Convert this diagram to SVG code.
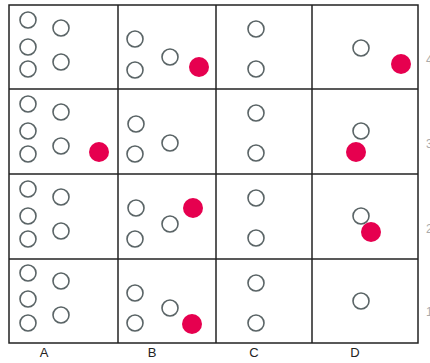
<svg xmlns="http://www.w3.org/2000/svg" width="430" height="363" viewBox="0 0 430 363">
<style>
.o{fill:none;stroke:#5a6466;stroke-width:1.6}
.r{fill:#e6004f}
.g{stroke:#222;stroke-width:1.5;fill:none}
.t{font-family:"Liberation Sans",Arial,sans-serif;font-size:13px;fill:#222;text-anchor:middle}
.e{font-family:"Liberation Sans",Arial,sans-serif;font-size:12px;fill:#aaa}
</style>
<rect width="430" height="363" fill="#fff"/>
<g id="grid">
<rect class="g" x="9" y="5" width="409" height="338"/>
<line class="g" x1="118" y1="5" x2="118" y2="343"/>
<line class="g" x1="216" y1="5" x2="216" y2="343"/>
<line class="g" x1="312" y1="5" x2="312" y2="343"/>
<line class="g" x1="9" y1="89" x2="418" y2="89"/>
<line class="g" x1="9" y1="174" x2="418" y2="174"/>
<line class="g" x1="9" y1="259" x2="418" y2="259"/>
</g>
<g id="A4"><circle class="o" cx="28" cy="20" r="8"/><circle class="o" cx="28" cy="47" r="8"/><circle class="o" cx="28" cy="69" r="8"/><circle class="o" cx="61" cy="28" r="8"/><circle class="o" cx="61" cy="62" r="8"/></g>
<g id="B4"><circle class="o" cx="135" cy="39" r="8"/><circle class="o" cx="135" cy="70" r="8"/><circle class="o" cx="170" cy="57" r="8"/><circle class="r" cx="199" cy="67" r="10"/></g>
<g id="C4"><circle class="o" cx="256" cy="29" r="8"/><circle class="o" cx="256" cy="69" r="8"/></g>
<g id="D4"><circle class="o" cx="361" cy="48" r="8"/><circle class="r" cx="401" cy="64" r="10"/></g>
<g id="A3"><circle class="o" cx="28" cy="104" r="8"/><circle class="o" cx="28" cy="131" r="8"/><circle class="o" cx="28" cy="154" r="8"/><circle class="o" cx="61" cy="112" r="8"/><circle class="o" cx="61" cy="146" r="8"/><circle class="r" cx="99" cy="152" r="10"/></g>
<g id="B3"><circle class="o" cx="136" cy="124" r="8"/><circle class="o" cx="135" cy="154" r="8"/><circle class="o" cx="170" cy="143" r="8"/></g>
<g id="C3"><circle class="o" cx="256" cy="113" r="8"/><circle class="o" cx="256" cy="153" r="8"/></g>
<g id="D3"><circle class="o" cx="361" cy="131" r="8"/><circle class="r" cx="356" cy="152" r="10"/></g>
<g id="A2"><circle class="o" cx="28" cy="189" r="8"/><circle class="o" cx="28" cy="216" r="8"/><circle class="o" cx="28" cy="239" r="8"/><circle class="o" cx="61" cy="197" r="8"/><circle class="o" cx="61" cy="231" r="8"/></g>
<g id="B2"><circle class="o" cx="136" cy="208" r="8"/><circle class="o" cx="135" cy="239" r="8"/><circle class="o" cx="170" cy="224" r="8"/><circle class="r" cx="193" cy="208" r="10"/></g>
<g id="C2"><circle class="o" cx="256" cy="198" r="8"/><circle class="o" cx="256" cy="238" r="8"/></g>
<g id="D2"><circle class="o" cx="361" cy="216" r="8"/><circle class="r" cx="371" cy="232" r="10"/></g>
<g id="A1"><circle class="o" cx="28" cy="273" r="8"/><circle class="o" cx="28" cy="299" r="8"/><circle class="o" cx="28" cy="323" r="8"/><circle class="o" cx="61" cy="281" r="8"/><circle class="o" cx="61" cy="315" r="8"/></g>
<g id="B1"><circle class="o" cx="135" cy="293" r="8"/><circle class="o" cx="135" cy="323" r="8"/><circle class="o" cx="170" cy="308" r="8"/><circle class="r" cx="192" cy="324" r="10"/></g>
<g id="C1"><circle class="o" cx="256" cy="283" r="8"/><circle class="o" cx="256" cy="323" r="8"/></g>
<g id="D1"><circle class="o" cx="361" cy="301" r="8"/></g>
<g id="labels">
<text class="t" x="44" y="357">A</text>
<text class="t" x="152" y="357">B</text>
<text class="t" x="254" y="357">C</text>
<text class="t" x="355" y="357">D</text>
<text class="e" x="426" y="64">4</text>
<text class="e" x="426" y="148">3</text>
<text class="e" x="426" y="233">2</text>
<text class="e" x="426" y="316">1</text>
</g>
</svg>
